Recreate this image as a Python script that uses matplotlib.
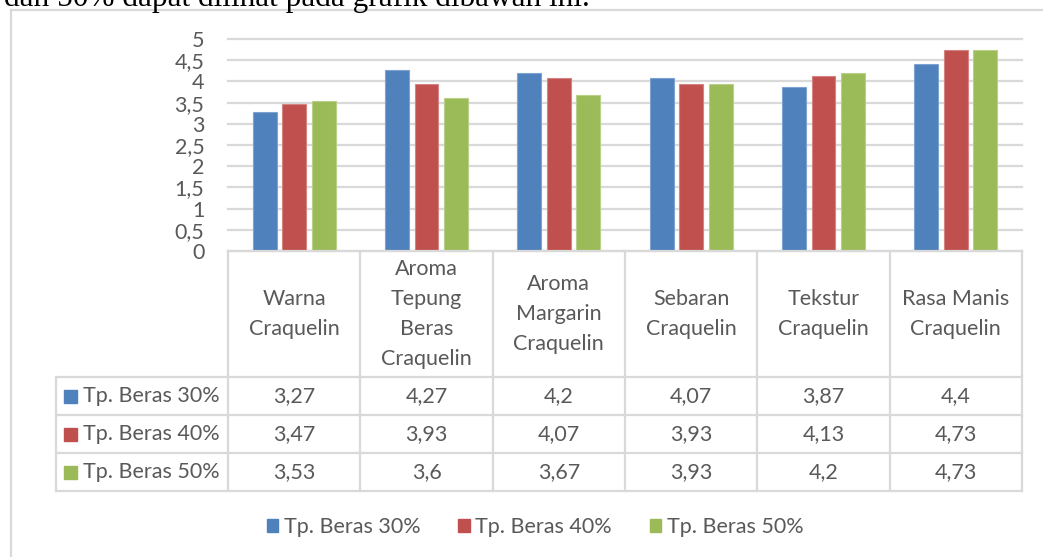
import matplotlib
matplotlib.use('Agg')
import matplotlib.pyplot as plt
from matplotlib.patches import Patch, Rectangle
from matplotlib.lines import Line2D

categories = ['Warna\nCraquelin', 'Aroma\nTepung\nBeras\nCraquelin', 'Aroma\nMargarin\nCraquelin',
              'Sebaran\nCraquelin', 'Tekstur\nCraquelin', 'Rasa Manis\nCraquelin']
series = ['Tp. Beras 30%', 'Tp. Beras 40%', 'Tp. Beras 50%']
beras30 = [3.27, 4.27, 4.2, 4.07, 3.87, 4.4]
beras40 = [3.47, 3.93, 4.07, 3.93, 4.13, 4.73]
beras50 = [3.53, 3.6, 3.67, 3.93, 4.2, 4.73]
yticks = [0, 0.5, 1, 1.5, 2, 2.5, 3, 3.5, 4, 4.5, 5]

colors = ['#4F81BD', '#C0504D', '#9BBB59']
edges = ['#7FA3D1', '#D48482', '#B9D08A']
text_c = '#595959'
line_c = '#D9D9D9'
font = 'Lato'
fs = 15.5

W, H = 1043, 557
def fx(px): return px / W
def fy(py): return 1 - py / H

fig = plt.figure(figsize=(10.43, 5.57), dpi=100, facecolor='white')

# cut-off document text above the chart
fig.text(fx(4), fy(6), 'dan 50% dapat dilihat pada grafik dibawah ini.', family='Liberation Serif',
         fontsize=22.5, va='baseline', ha='left', color='black')

# chart frame (only top and left edges visible)
fig.add_artist(Line2D([fx(11), 1], [fy(10), fy(10)], color=line_c, lw=1.6))
fig.add_artist(Line2D([fx(11), fx(11)], [fy(10), 0], color=line_c, lw=1.6))

# bars
ax = fig.add_axes([fx(228), fy(251), (1022 - 228) / W, (251 - 39) / H])
ax.set_xlim(-0.5, 5.5)
ax.set_ylim(0, 5)
for s in ax.spines.values():
    s.set_visible(False)
ax.set_yticks(yticks)
ax.set_yticklabels([f'{v:g}'.replace('.', ',') for v in yticks], family=font, fontsize=fs, color=text_c)
ax.tick_params(axis='y', length=0, pad=17)
ax.set_xticks([])
ax.yaxis.grid(True, color=line_c, lw=1.6, clip_on=False)
ax.set_axisbelow(True)
n = len(categories)
off = 0.223
for k, vals in enumerate([beras30, beras40, beras50]):
    ax.bar([i + (k - 1) * off for i in range(n)], vals, width=0.18, color=colors[k],
           edgecolor=edges[k], linewidth=0.8, zorder=3)

# data table
tab = fig.add_axes([fx(56), fy(491), (1022 - 56) / W, (491 - 251) / H])
tab.set_xlim(-1.8, 5.5)
tab.set_ylim(491, 251)
tab.axis('off')
rows_y = [377, 415, 453, 491]
kw = dict(color=line_c, lw=1.6, clip_on=False)
tab.plot([-0.5, 5.5], [251, 251], **kw)
for y in rows_y:
    tab.plot([-1.8, 5.5], [y, y], **kw)
for i in range(n + 1):
    tab.plot([i - 0.5, i - 0.5], [251, 491], **kw)
tab.plot([-1.8, -1.8], [377, 491], **kw)

for i, c in enumerate(categories):
    tab.text(i, 314, c, ha='center', va='center', family=font, fontsize=fs, color=text_c,
             linespacing=1.62)
for k, vals in enumerate([beras30, beras40, beras50]):
    yc = (rows_y[k] + rows_y[k + 1]) / 2
    tab.add_patch(Rectangle((-1.74, yc - 6.5), 0.1, 13, color=colors[k], clip_on=False))
    tab.text(-1.595, yc, series[k], ha='left', va='center', family=font, fontsize=fs, color=text_c)
    for i, v in enumerate(vals):
        tab.text(i, yc, f'{v:g}'.replace('.', ','), ha='center', va='center', family=font,
                 fontsize=fs, color=text_c)

# legend
handles = [Patch(color=colors[k], label=series[k]) for k in range(3)]
fig.legend(handles=handles, loc='center', bbox_to_anchor=(fx(535), fy(527)), ncol=3,
           frameon=False, handlelength=0.55, handleheight=0.55, handletextpad=0.25,
           columnspacing=1.75, prop={'family': font, 'size': fs}, labelcolor=text_c)

plt.savefig('out.png', dpi=100, facecolor='white')
plt.close()
